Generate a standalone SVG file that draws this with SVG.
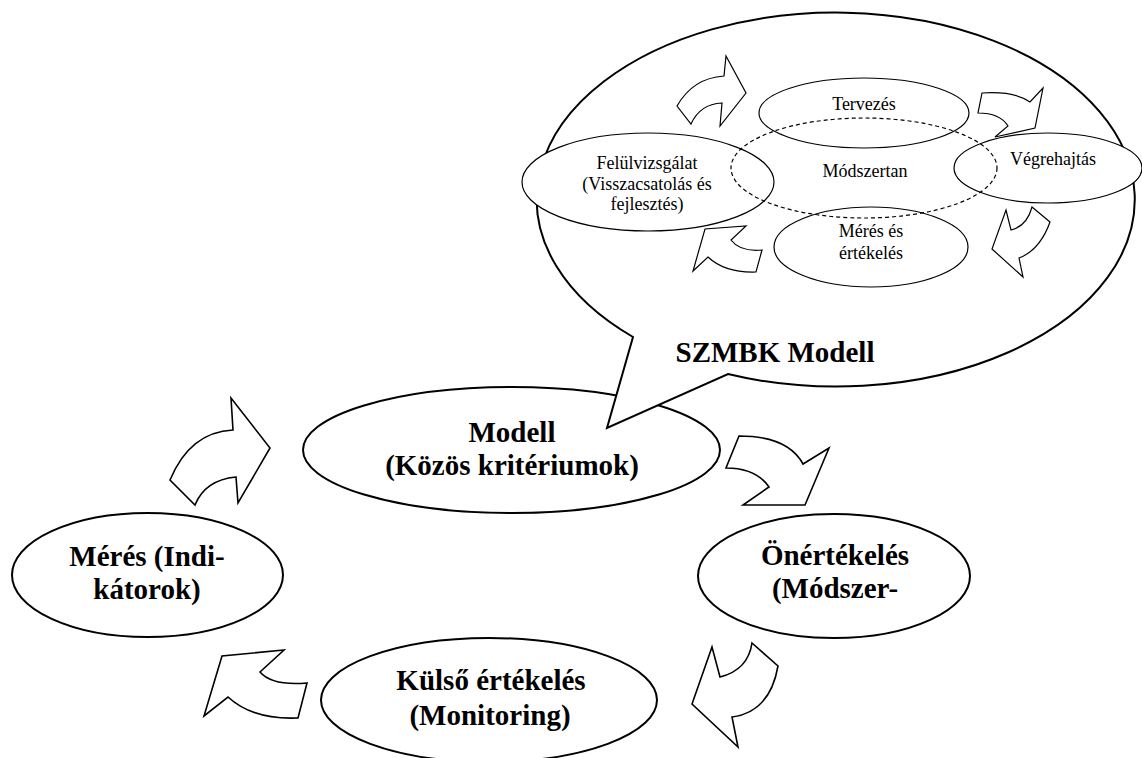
<svg xmlns="http://www.w3.org/2000/svg" width="1142" height="758" viewBox="0 0 1142 758">
  <style>
    .main { fill: #fff; stroke: #000; stroke-width: 2; }
    .sub { fill: #fff; stroke: #000; stroke-width: 1.2; }
    .dash { fill: none; stroke: #000; stroke-width: 1.2; stroke-dasharray: 4 3; }
    .arrow { fill: #fff; stroke: #000; stroke-width: 1.6; stroke-linejoin: miter; }
    .arrow-s { fill: #fff; stroke: #000; stroke-width: 1.2; stroke-linejoin: miter; }
    text { font-family: 'Liberation Serif', 'Times New Roman', 'DejaVu Serif', serif; text-anchor: middle; fill: #000; }
    .big { font-weight: bold; font-size: 29px; }
    .small { font-weight: normal; font-size: 18px; }
  </style>
  <rect width="1142" height="758" fill="#fff"/>

  <!-- Main cycle: common criteria -->
  <g id="node-modell">
    <ellipse class="main" cx="511.5" cy="450" rx="208.5" ry="63"/>
    <text class="big" font-family="Liberation Serif, serif" x="512" y="442">Modell</text>
    <text class="big" font-family="Liberation Serif, serif" x="512" y="475">(Közös kritériumok)</text>
  </g>

  <!-- Callout bubble with the inner methodology cycle -->
  <g id="node-szmbk">
    <path class="main" d="M728,374 A299,187 0 1 0 633,337 L607,428 Z"/>
    <text class="big" font-family="Liberation Serif, serif" x="775" y="362">SZMBK Modell</text>
  </g>

  <g id="node-tervezes">
    <ellipse class="sub" cx="864" cy="113" rx="105" ry="35"/>
    <text class="small" font-family="Liberation Serif, serif" x="864" y="110">Tervezés</text>
  </g>
  <g id="node-felulvizsgalat">
    <ellipse class="sub" cx="648" cy="182" rx="126" ry="49"/>
    <text class="small" font-family="Liberation Serif, serif" x="647" y="169">Felülvizsgálat</text>
    <text class="small" font-family="Liberation Serif, serif" x="647" y="190">(Visszacsatolás és</text>
    <text class="small" font-family="Liberation Serif, serif" x="647" y="210">fejlesztés)</text>
  </g>
  <g id="node-vegrehajtas">
    <ellipse class="sub" cx="1048" cy="168" rx="94" ry="35"/>
    <text class="small" font-family="Liberation Serif, serif" x="1053" y="165">Végrehajtás</text>
  </g>
  <g id="node-meres-ertekeles">
    <ellipse class="sub" cx="871" cy="247" rx="97" ry="40"/>
    <text class="small" font-family="Liberation Serif, serif" x="871" y="237">Mérés és</text>
    <text class="small" font-family="Liberation Serif, serif" x="871" y="259">értékelés</text>
  </g>
  <g id="node-modszertan">
    <ellipse class="dash" cx="864" cy="168" rx="133" ry="50"/>
    <text class="small" font-family="Liberation Serif, serif" x="865" y="177">Módszertan</text>
  </g>

  <!-- Main cycle: remaining stages -->
  <g id="node-meres">
    <ellipse class="main" cx="147.5" cy="575" rx="135.5" ry="62"/>
    <text class="big" font-family="Liberation Serif, serif" x="147" y="566">Mérés (Indi-</text>
    <text class="big" font-family="Liberation Serif, serif" x="147" y="599">kátorok)</text>
  </g>
  <g id="node-onertekeles">
    <ellipse class="main" cx="834" cy="576" rx="136" ry="62"/>
    <text class="big" font-family="Liberation Serif, serif" x="835" y="565">Önértékelés</text>
    <text class="big" font-family="Liberation Serif, serif" x="835" y="598">(Módszer-</text>
  </g>
  <g id="node-kulso">
    <ellipse class="main" cx="489" cy="700" rx="168" ry="62"/>
    <text class="big" font-family="Liberation Serif, serif" x="491" y="690">Külső értékelés</text>
    <text class="big" font-family="Liberation Serif, serif" x="490" y="725">(Monitoring)</text>
  </g>

  <!-- Curved block arrows -->
  <g id="connectors">
    <!-- inner cycle -->
    <path class="arrow-s" d="M677,106 Q693,78 724,76 L726,56 L746,93 L720,126 L722,103 Q700,104 691,124 Z"/>
    <path class="arrow-s" d="M982,93 Q1015,91 1030,102 L1043,88 L1035,128 L995,137 L1008,126 Q1000,113 978,113 Z"/>
    <path class="arrow-s" d="M1032,207 L1050,222 Q1040,250 1019,258 L1023,277 L992,249 L1006,210 L1011,230 Q1027,226 1032,207 Z"/>
    <path class="arrow-s" d="M762,250 L756,272 Q725,273 708,257 L693,271 L705,229 L746,226 L731,240 Q740,252 762,250 Z"/>
    <!-- outer cycle -->
    <path class="arrow" d="M170,480 Q190,432 233,430 L231,398 L270,448 L238,503 L236,477 Q205,480 195,505 Z"/>
    <path class="arrow" d="M739,436 Q788,436 803,464 L829,448 L805,505 L743,505 L769,487 Q756,468 726,468 Z"/>
    <path class="arrow" d="M752,643 L778,666 Q770,712 732,717 L738,747 L692,704 L712,647 L720,677 Q748,670 752,643 Z"/>
    <path class="arrow" d="M307,683 L298,718 Q253,720 228,697 L204,716 L222,656 L284,650 L260,672 Q272,686 307,683 Z"/>
  </g>
</svg>
